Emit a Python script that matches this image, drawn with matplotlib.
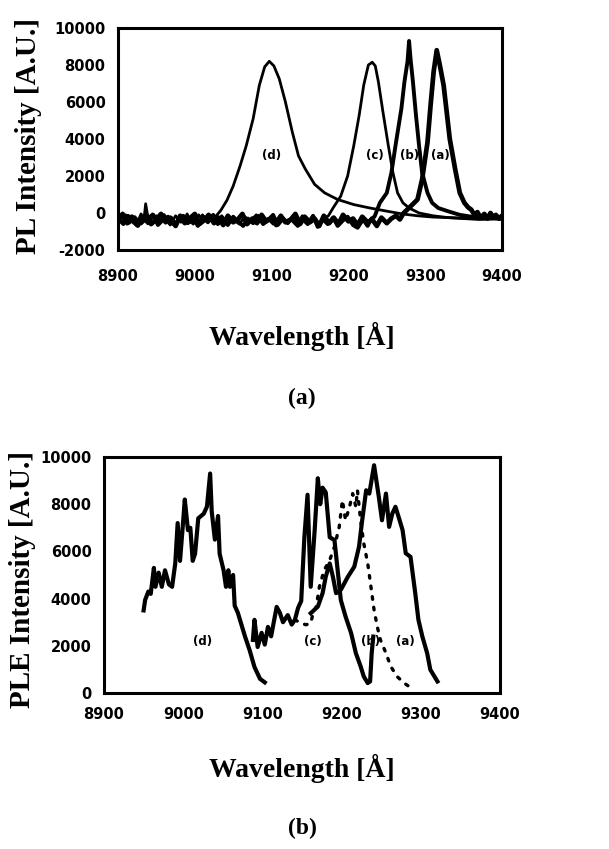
import matplotlib
matplotlib.use("Agg")
import matplotlib.pyplot as plt

# ---------------- data: PL spectra (top panel) ----------------
wl_pl_d = [8900, 8905, 8910, 8916, 8920, 8925, 8930, 8934, 8936, 8939, 8945, 8950, 8955, 8960, 8966,
           8970, 8975, 8980, 8986, 8990, 8995, 9000, 9005, 9010, 9016, 9020, 9025, 9028,
           9034, 9042, 9050, 9059, 9067, 9076, 9084, 9091, 9097, 9103, 9110, 9118, 9127, 9135, 9144,
           9156, 9169, 9186, 9207, 9228, 9250, 9270, 9290, 9310, 9330, 9350, 9370, 9390, 9400]
pl_d = [-250, -500, -100, -450, -200, -550, -50, -300, 500, -250, -550, -150, -450, -80, -500,
        -250, -600, -150, -400, -50, -500, -250, -550, -100, -450, -200, -350, -150,
        150, 700, 1460, 2550, 3640, 5100, 6900, 7900, 8200, 7950, 7250, 6000, 4370, 3090, 2370,
        1550, 1090, 730, 455, 270, 100, -50, -150, -220, -250, -280, -300, -290, -300]

wl_pl_c = [8900, 8908, 8915, 8922, 8930, 8938, 8945, 8952, 8960, 8968, 8975, 8982, 8990, 8998, 9005,
           9012, 9020, 9028, 9035, 9042, 9050, 9058, 9065, 9072, 9080, 9088, 9095, 9102, 9110, 9118,
           9125, 9132, 9140, 9148, 9155, 9162, 9168, 9174, 9180, 9190, 9199, 9207, 9214, 9220, 9226,
           9231, 9235, 9239, 9245, 9252, 9258, 9264, 9271, 9279, 9292, 9310, 9330, 9350, 9370, 9390,
           9400]
pl_c = [-400, -100, -550, -200, -600, -300, -50, -450, -250, -650, -150, -500, -300, -600, -100,
        -450, -250, -550, -150, -500, -350, -600, -200, -450, -100, -550, -300, -600, -200, -500,
        -350, -650, -150, -500, -250, -600, -300, -150, 270, 910, 2000, 3640, 5280, 6920, 8000,
        8150, 7950, 7100, 5460, 3640, 2180, 1090, 550, 270, 0, -150, -250, -300, -350, -330,
        -350]

wl_pl_b = [8900, 8907, 8913, 8920, 8926, 8933, 8939, 8946, 8952, 8959, 8965, 8972, 8978, 8985, 8991,
           8998, 9004, 9011, 9017, 9024, 9030, 9037, 9043, 9050, 9056, 9063, 9069, 9076, 9082, 9089,
           9095, 9102, 9108, 9115, 9121, 9128, 9134, 9141, 9147, 9154, 9160, 9167, 9173, 9180, 9186,
           9193, 9199, 9206, 9212, 9219, 9225, 9230, 9234, 9241, 9250, 9256,
           9262, 9269, 9273, 9277, 9279, 9281, 9284, 9288, 9292, 9296, 9303, 9309, 9317, 9330, 9345,
           9360, 9375, 9390, 9400]
pl_b = [-300, -600, -150, -500, -700, -250, -550, -100, -650, -350, -200, -600, -450, -150, -550,
        -300, -700, -200, -500, -100, -600, -350, -650, -200, -450, -700, -300, -550, -150, -600,
        -400, -100, -650, -300, -550, -200, -700, -350, -600, -150, -750, -350, -600, -250, -700,
        -400, -200, -650, -800, -350, -700, -300, -200, 550, 1090, 2180,
        3820, 5640, 7100, 8200, 9300, 8300, 7100, 5280, 3640, 2180, 1090, 550, 270, 90, -100,
        -200, -250, -230, -250]

wl_pl_a = [8900, 8906, 8912, 8918, 8925, 8931, 8937, 8943, 8950, 8956, 8962, 8968, 8975, 8981, 8987,
           8993, 9000, 9006, 9012, 9018, 9025, 9031, 9037, 9043, 9050, 9056, 9062, 9068, 9075, 9081,
           9087, 9093, 9100, 9106, 9112, 9118, 9125, 9131, 9137, 9143, 9150, 9156, 9162, 9168, 9175,
           9181, 9187, 9193, 9200, 9206, 9212, 9218, 9225, 9231, 9237, 9243, 9250, 9256, 9262, 9267,
           9272, 9281, 9290, 9296, 9303, 9307, 9311, 9315, 9319, 9324, 9328, 9332, 9339, 9345, 9351,
           9356, 9360, 9364, 9368, 9372, 9377, 9381, 9385, 9389, 9392, 9396, 9400]
pl_a = [-350, -50, -550, -200, -650, -300, -100, -600, -350, -50, -500, -250, -700, -150, -550,
        -300, -50, -600, -400, -100, -550, -250, -650, -150, -500, -350, -50, -600, -300, -550,
        -100, -450, -250, -650, -150, -500, -350, -50, -600, -200, -500, -300, -700, -150, -550,
        -250, -600, -100, -450, -300, -650, -200, -500, -350, -700, -250, -550, -300, -150, -350,
        0, 360, 730, 1820, 3820, 5820, 7640, 8800, 8000, 6900, 5460, 4000, 2370, 1090, 550,
        300, 180, -100, 50, -250, -50, -300, 0, -250, -100, -300, -150]

# ---------------- data: PLE spectra (bottom panel) ----------------
wl_ple_d = [8950, 8952, 8956, 8959, 8963, 8965, 8969, 8973, 8977, 8982, 8986, 8990, 8993, 8996, 9000,
            9002, 9006, 9009, 9012, 9015, 9019, 9026, 9030, 9034, 9036, 9040, 9044, 9046, 9051, 9054,
            9057, 9059, 9063, 9065, 9069, 9078, 9084, 9090, 9097, 9103]
ple_d = [3500, 3950, 4300, 4200, 5300, 4500, 5100, 4500, 5200, 4600, 4500, 5500, 7200, 5600, 7300,
         8200, 6900, 7000, 5600, 5900, 7400, 7600, 7900, 9300, 7700, 6500, 7500, 5900, 5200, 4500,
         5200, 4500, 5000, 3700, 3400, 2400, 1800, 1100, 600, 450]

wl_ple_c = [9088, 9090, 9094, 9099, 9103, 9107, 9111, 9118, 9122, 9126, 9132, 9137, 9141, 9145, 9149,
            9153, 9157, 9161, 9166, 9170, 9173, 9176, 9180, 9185, 9191, 9195, 9199, 9205, 9212, 9218,
            9224, 9228, 9233, 9236, 9238, 9240]
ple_c = [2250, 3100, 1950, 2550, 2050, 2800, 2400, 3650, 3400, 3000, 3300, 2900, 3100, 3600, 3900,
         6600, 8400, 4500, 6900, 9100, 8000, 8700, 8500, 6600, 6480, 5210, 3940, 3240, 2540, 1690,
         1130, 700, 420, 490, 1690, 2390]

wl_ple_b = [9141, 9149, 9155, 9161, 9164, 9168, 9172, 9178, 9185, 9191, 9197, 9201, 9205, 9210, 9214,
            9218, 9220, 9224, 9228, 9233, 9237, 9241, 9245, 9249, 9256, 9262, 9270, 9279, 9285]
ple_b = [3100, 2960, 2890, 2960, 3380, 3660, 4510, 5210, 5630, 6200, 7040, 8170, 7320, 7890, 8450,
         7890, 8590, 7320, 6340, 5490, 4510, 3520, 2820, 2250, 1690, 1130, 700, 420, 280]

wl_ple_a = [9161, 9170, 9176, 9180, 9185, 9189, 9193, 9199, 9208, 9216, 9222, 9226, 9231, 9235, 9241,
            9247, 9251, 9256, 9260, 9264, 9268, 9272, 9277, 9281, 9287, 9293, 9297, 9302, 9308, 9312,
            9321]
ple_a = [3380, 3660, 4230, 4930, 5490, 4930, 4230, 4370, 4930, 5350, 6200, 7320, 8590, 8450, 9650,
         8310, 7320, 8450, 7040, 7600, 7890, 7460, 6900, 5920, 5770, 4230, 3100, 2390, 1690, 990,
         490]

xticks = [8900, 9000, 9100, 9200, 9300, 9400]
yticks_pl = [-2000, 0, 2000, 4000, 6000, 8000, 10000]
yticks_ple = [0, 2000, 4000, 6000, 8000, 10000]

W, H = 609, 849
fig = plt.figure(figsize=(W / 100, H / 100), dpi=100)

tick_font = dict(family="DejaVu Sans", weight="bold", size=10.5)
label_font = dict(family="Liberation Serif", weight="bold", size=20)
curve_font = dict(family="DejaVu Sans", weight="bold", size=8.5)


def px_axes(left, top, right, bottom):
    return fig.add_axes([left / W, 1 - bottom / H, (right - left) / W, (bottom - top) / H])


def style(ax, box, yticks, ylim, ylabel, xpad, xlabel_y, ylabel_x, ylabel_y):
    left, top, right, bottom = box
    ax.set_xlim(8900, 9400)
    ax.set_ylim(*ylim)
    ax.set_xticks(xticks)
    ax.set_yticks(yticks)
    ax.set_xticklabels([str(v) for v in xticks], **tick_font)
    ax.set_yticklabels([str(v) for v in yticks], **tick_font)
    ax.tick_params(axis="x", length=0, pad=xpad)
    ax.tick_params(axis="y", length=0, pad=9)
    for s in ax.spines.values():
        s.set_linewidth(2.2)
        s.set_color("black")
    ax.set_xlabel("Wavelength [Å]", va="center", **label_font)
    ax.xaxis.set_label_coords((302 - left) / (right - left), (bottom - xlabel_y) / (bottom - top))
    ax.set_ylabel(ylabel, va="center", family="Liberation Serif", weight="bold", size=21)
    ax.yaxis.set_label_coords((ylabel_x - left) / (right - left), (bottom - ylabel_y) / (bottom - top))


# ---------------- top panel ----------------
box1 = (118, 28, 502, 250)
ax1 = px_axes(*box1)
ax1.plot(wl_pl_d, pl_d, color="black", lw=2.0)
ax1.plot(wl_pl_c, pl_c, color="black", lw=2.0)
ax1.plot(wl_pl_b, pl_b, color="black", lw=2.8)
ax1.plot(wl_pl_a, pl_a, color="black", lw=3.4)
style(ax1, box1, yticks_pl, (-2000, 10000), "PL Intensity [A.U.]", 14, 336, 28, 136)
for lab, x, y in [("(d)", 9100, 3100), ("(c)", 9235, 3100), ("(b)", 9280, 3100), ("(a)", 9320, 3100)]:
    ax1.text(x, y, lab, ha="center", va="center", **curve_font)
fig.text(302 / W, 1 - 398 / H, "(a)", ha="center", va="center",
         family="Liberation Serif", weight="bold", size=17)

# ---------------- bottom panel ----------------
box2 = (104, 457, 500, 693)
ax2 = px_axes(*box2)
ax2.plot(wl_ple_d, ple_d, color="black", lw=3.0)
ax2.plot(wl_ple_c, ple_c, color="black", lw=3.0)
ax2.plot(wl_ple_b, ple_b, color="black", lw=2.4, linestyle=(0, (0.8, 2.4)), dash_capstyle="round")
ax2.plot(wl_ple_a, ple_a, color="black", lw=3.0)
style(ax2, box2, yticks_ple, (0, 10000), "PLE Intensity [A.U.]", 10, 768, 22, 580)
for lab, x, y in [("(d)", 9025, 2180), ("(c)", 9164, 2180), ("(b)", 9236, 2180), ("(a)", 9281, 2180)]:
    ax2.text(x, y, lab, ha="center", va="center", **curve_font)
fig.text(302 / W, 1 - 828 / H, "(b)", ha="center", va="center",
         family="Liberation Serif", weight="bold", size=17)

fig.savefig("out.png", dpi=100)
